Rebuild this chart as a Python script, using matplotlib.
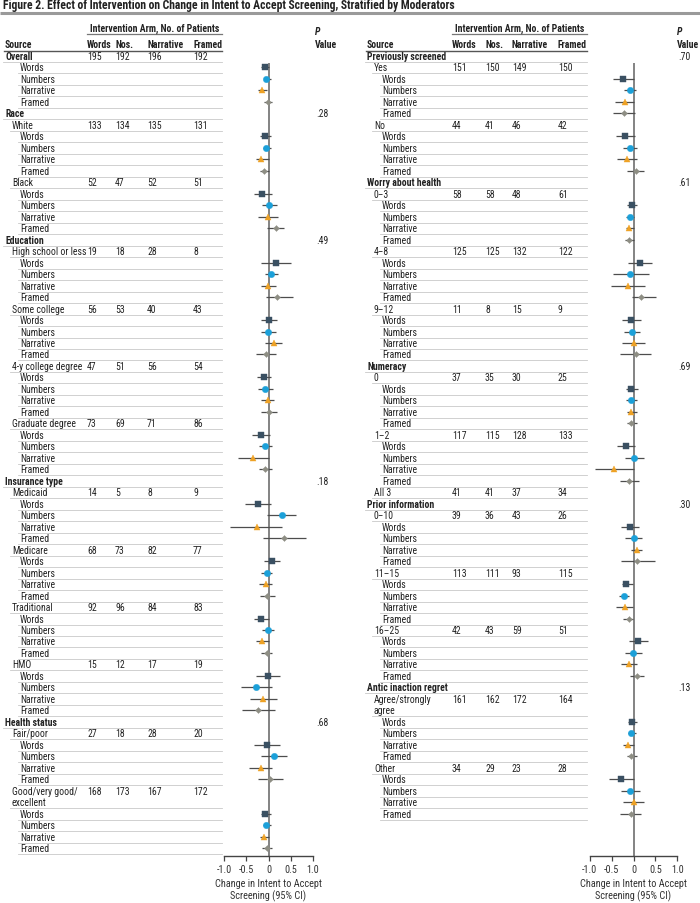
import matplotlib
matplotlib.use("Agg")
import matplotlib.pyplot as plt
from matplotlib import font_manager
import numpy as np

# ---------------- data ----------------
arms = ["Words", "Numbers", "Narrative", "Framed"]
arm_headers = ["Words", "Nos.", "Narrative", "Framed"]

left_sections = ["Overall", "Race", "Education", "Insurance type", "Health status"]
left_pvalues = ["", ".28", ".49", ".18", ".68"]
left_subgroups = [[None], ["White", "Black"],
                  ["High school or less", "Some college", "4-y college degree", "Graduate degree"],
                  ["Medicaid", "Medicare", "Traditional", "HMO"],
                  ["Fair/poor", "Good/very good/\nexcellent"]]
left_counts = [[195, 192, 196, 192], [133, 134, 135, 131], [52, 47, 52, 51],
               [19, 18, 28, 8], [56, 53, 40, 43], [47, 51, 56, 54], [73, 69, 71, 86],
               [14, 5, 8, 9], [68, 73, 82, 77], [92, 96, 84, 83], [15, 12, 17, 19],
               [27, 18, 28, 20], [168, 173, 167, 172]]
left_est = [[-0.08, -0.05, -0.14, -0.02], [-0.08, -0.05, -0.16, -0.10], [-0.14, 0.01, -0.01, 0.16],
            [0.18, 0.06, -0.01, 0.19], [0.01, -0.01, 0.12, -0.05], [-0.10, -0.07, -0.02, 0.01],
            [-0.18, -0.07, -0.35, -0.08], [-0.24, 0.30, -0.27, 0.35], [0.09, -0.03, -0.06, -0.03],
            [-0.17, -0.01, -0.15, -0.03], [-0.01, -0.28, -0.12, -0.23], [-0.03, 0.12, -0.18, 0.04],
            [-0.08, -0.05, -0.11, -0.03]]
left_lo = [[-0.16, -0.10, -0.24, -0.10], [-0.20, -0.13, -0.29, -0.20], [-0.33, -0.14, -0.23, -0.03],
           [-0.16, -0.08, -0.16, -0.05], [-0.16, -0.18, -0.07, -0.28], [-0.25, -0.24, -0.17, -0.16],
           [-0.38, -0.22, -0.68, -0.22], [-0.53, -0.03, -0.86, -0.13], [-0.10, -0.16, -0.21, -0.20],
           [-0.33, -0.14, -0.29, -0.16], [-0.29, -0.62, -0.42, -0.60], [-0.33, -0.18, -0.43, -0.23],
           [-0.18, -0.13, -0.20, -0.14]]
left_hi = [[0.00, 0.05, -0.03, 0.07], [0.06, 0.06, 0.01, 0.01], [0.08, 0.20, 0.21, 0.35],
           [0.51, 0.22, 0.16, 0.56], [0.19, 0.17, 0.31, 0.17], [0.05, 0.11, 0.12, 0.20],
           [0.03, 0.08, 0.01, 0.08], [0.06, 0.63, 0.31, 0.84], [0.27, 0.09, 0.08, 0.14],
           [0.00, 0.12, 0.00, 0.08], [0.27, 0.07, 0.20, 0.15], [0.27, 0.42, 0.08, 0.32],
           [0.05, 0.06, 0.00, 0.07]]

right_sections = ["Previously screened", "Worry about health", "Numeracy", "Prior information",
                  "Antic inaction regret"]
right_pvalues = [".70", ".61", ".69", ".30", ".13"]
right_subgroups = [["Yes", "No"], ["0–3", "4–8", "9–12"], ["0", "1–2", "All 3"],
                   ["0–10", "11–15", "16–25"], ["Agree/strongly\nagree", "Other"]]
right_counts = [[151, 150, 149, 150], [44, 41, 46, 42], [58, 58, 48, 61], [125, 125, 132, 122],
                [11, 8, 15, 9], [37, 35, 30, 25], [117, 115, 128, 133], [41, 41, 37, 34],
                [39, 36, 43, 26], [113, 111, 93, 115], [42, 43, 59, 51], [161, 162, 172, 164],
                [34, 29, 23, 28]]
right_est = [[-0.23, -0.08, -0.20, -0.22], [-0.19, -0.09, -0.15, 0.05], [-0.04, -0.09, -0.10, -0.10],
             [0.15, -0.07, -0.13, 0.18], [-0.05, -0.04, 0.01, 0.05], [-0.05, -0.05, -0.05, -0.05],
             [-0.18, 0.02, -0.44, -0.10], None, [-0.09, 0.00, 0.07, 0.09],
             [-0.16, -0.22, -0.20, -0.11], [0.11, -0.01, -0.11, 0.09], [-0.03, -0.05, -0.12, -0.05],
             [-0.28, -0.08, 0.02, -0.06]]
right_lo = [[-0.47, -0.21, -0.42, -0.47], [-0.41, -0.24, -0.37, -0.14], [-0.15, -0.18, -0.18, -0.20],
            [-0.13, -0.47, -0.51, -0.03], [-0.27, -0.21, -0.26, -0.30], [-0.17, -0.18, -0.15, -0.15],
            [-0.37, -0.20, -0.87, -0.30], None, [-0.28, -0.19, -0.05, -0.29],
            [-0.27, -0.33, -0.40, -0.23], [-0.10, -0.19, -0.29, -0.08], [-0.13, -0.12, -0.24, -0.15],
            [-0.56, -0.28, -0.23, -0.30]]
right_hi = [[0.00, 0.06, 0.00, 0.04], [0.03, 0.08, 0.09, 0.25], [0.08, 0.02, 0.02, 0.02],
            [0.43, 0.35, 0.27, 0.52], [0.18, 0.15, 0.27, 0.40], [0.11, 0.07, 0.07, 0.08],
            [0.03, 0.24, 0.00, 0.12], None, [0.12, 0.19, 0.19, 0.49],
            [-0.02, -0.11, -0.01, -0.01], [0.34, 0.19, 0.09, 0.25], [0.08, 0.05, 0.00, 0.08],
            [0.00, 0.14, 0.25, 0.18]]

xticks = [-1.0, -0.5, 0, 0.5, 1.0]
xtick_labels = ["-1.0", "-0.5", "0", "0.5", "1.0"]
title = "Figure 2. Effect of Intervention on Change in Intent to Accept Screening, Stratified by Moderators"
xlabel = "Change in Intent to Accept\nScreening (95% CI)"

marker_style = {
    "Words": dict(marker="s", color="#3a5062", ms=4.3),
    "Numbers": dict(marker="o", color="#1ba0d9", ms=4.6),
    "Narrative": dict(marker="^", color="#eea226", ms=5.0),
    "Framed": dict(marker="D", color="#8e8e84", ms=3.0),
}

# ---------------- font choice ----------------
avail = {f.name for f in font_manager.fontManager.ttflist}
font = "DejaVu Sans"
for cand in ["Liberation Sans Narrow", "Roboto Condensed", "DejaVu Sans Condensed",
             "Open Sans Condensed", "Roboto", "Lato"]:
    if cand in avail:
        font = cand
        break
plt.rcParams['font.family'] = [font, 'DejaVu Sans']

# ---------------- layout ----------------
W, H = 700, 904
fig = plt.figure(figsize=(W / 100, H / 100), dpi=100)
bg = fig.add_axes([0, 0, 1, 1])
bg.set_xlim(0, W)
bg.set_ylim(H, 0)
bg.axis("off")

# size text so that widths match the reference
fig.canvas.draw()
rend = fig.canvas.get_renderer()
probe = bg.text(0, 0, "Graduate degree", fontsize=10)
FS = 10 * 63.0 / probe.get_window_extent(rend).width
probe.remove()
probe = bg.text(0, 0, title, fontsize=10, fontweight="bold")
TFS = 10 * 452.0 / probe.get_window_extent(rend).width
probe.remove()

ROW0, ROWH = 57.0, 11.48
TXT = "#222222"
AX_TOP, AX_BOT = 64.0, 857.0


def ypix(i):
    return ROW0 + ROWH * i


bg.text(3, 6, title, fontsize=TFS, fontweight="bold", color=TXT, va="center", ha="left")
bg.plot([0, W], [13.5, 13.5], color="#9a9a9a", lw=2.2, solid_capstyle="butt")


def build_rows(sections, pvals, subgroups, counts, est, lo, hi):
    rows = []
    points = []
    k = 0
    for sec, pv, subs in zip(sections, pvals, subgroups):
        if subs == [None]:
            rows.append((0, sec, counts[k], pv, True))
            for a in range(4):
                points.append((len(rows), a, est[k][a], lo[k][a], hi[k][a]))
                rows.append((2, arms[a], None, "", False))
            k += 1
            continue
        rows.append((0, sec, None, pv, True))
        for sub in subs:
            parts = sub.split("\n")
            rows.append((1, parts[0], counts[k], "", False))
            for p in parts[1:]:
                rows.append((1, p, None, "", False, "cont"))
            if est[k] is not None:
                for a in range(4):
                    points.append((len(rows), a, est[k][a], lo[k][a], hi[k][a]))
                    rows.append((2, arms[a], None, "", False))
            k += 1
    return rows, points


def draw_panel(x0, col_x, line_end, pval_x, ax_left, ax_right, data):
    rows, points = build_rows(*data)
    indent = [x0, x0 + 7, x0 + 15]
    bg.text((col_x[0] + line_end) / 2, 28.5, "Intervention Arm, No. of Patients", fontsize=FS,
            fontweight="bold", color=TXT, ha="center", va="center")
    bg.plot([col_x[0], line_end], [34.5, 34.5], color="#777777", lw=0.9)
    bg.text(x0, 45, "Source", fontsize=FS, fontweight="bold", color=TXT, va="center")
    for cx, hd in zip(col_x, arm_headers):
        bg.text(cx, 45, hd, fontsize=FS, fontweight="bold", color=TXT, va="center")
    bg.plot([x0 - 1, line_end], [51.5, 51.5], color="#555555", lw=1.0)
    bg.text(pval_x, 32, "P", fontsize=FS, fontweight="bold", style="italic", color=TXT, va="center")
    bg.text(pval_x, 45, "Value", fontsize=FS, fontweight="bold", color=TXT, va="center")

    for i, r in enumerate(rows):
        lvl, label, cnt, pv, bold = r[:5]
        cont = len(r) > 5
        y = ypix(i)
        bg.text(indent[lvl], y, label, fontsize=FS, fontweight="bold" if bold else "normal",
                color=TXT, va="center")
        if cnt is not None:
            for cx, c in zip(col_x, cnt):
                bg.text(cx, y, str(c), fontsize=FS, color=TXT, va="center")
        if pv:
            bg.text(pval_x + 1, y, pv, fontsize=FS, color=TXT, va="center")
        nxt_cont = i + 1 < len(rows) and len(rows[i + 1]) > 5
        if not nxt_cont:
            lx = indent[lvl] - 2 if not cont else indent[1] - 2
            bg.plot([lx, line_end], [y + 6.0, y + 6.0], color="#c9c9c9", lw=0.6)

    ax = fig.add_axes([ax_left / W, 1 - AX_BOT / H, (ax_right - ax_left) / W, (AX_BOT - AX_TOP) / H])
    ax.set_xlim(-1, 1)
    ax.set_ylim((AX_BOT - ROW0) / ROWH, (AX_TOP - ROW0) / ROWH)
    ax.patch.set_alpha(0)
    for s in ["top", "left", "right"]:
        ax.spines[s].set_visible(False)
    ax.spines["bottom"].set_color("#444444")
    ax.spines["bottom"].set_linewidth(1.0)
    ax.set_yticks([])
    ax.set_xticks(xticks)
    ax.set_xticklabels(xtick_labels)
    ax.tick_params(axis="x", direction="out", length=3.5, width=0.9, color="#444444",
                   labelsize=FS + 0.3, labelcolor="#333333", pad=2)
    ax.set_xlabel(xlabel, fontsize=FS + 0.4, color="#333333", labelpad=3, linespacing=1.2)
    ax.axvline(0, color="#7a7a7a", lw=1.3, zorder=1)
    for a, arm in enumerate(arms):
        pts = [p for p in points if p[1] == a]
        yy = np.array([p[0] for p in pts], float)
        e = np.array([p[2] for p in pts])
        l = np.array([p[3] for p in pts])
        h = np.array([p[4] for p in pts])
        st = marker_style[arm]
        ax.errorbar(e, yy, xerr=[e - l, h - e], fmt="none", ecolor="#4d4d4d", elinewidth=0.9,
                    capsize=0, zorder=2, clip_on=False)
        ax.plot(e, yy, linestyle="none", marker=st["marker"], color=st["color"], ms=st["ms"],
                markeredgewidth=0.3, markeredgecolor=st["color"], zorder=3, clip_on=False)


draw_panel(5, [87, 115, 147, 193], 222, 315, 224.3, 312.7,
           (left_sections, left_pvalues, left_subgroups, left_counts, left_est, left_lo, left_hi))
draw_panel(367, [452, 485, 512, 558], 587, 677, 589.7, 677.3,
           (right_sections, right_pvalues, right_subgroups, right_counts, right_est, right_lo, right_hi))

fig.savefig("out.png", dpi=100)
